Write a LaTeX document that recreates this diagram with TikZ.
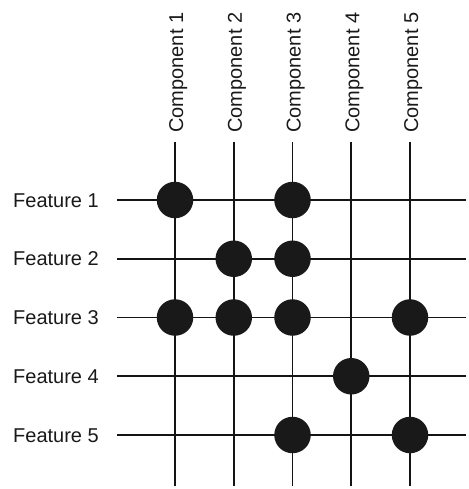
\documentclass[tikz,border=0pt]{standalone}
\usepackage{fontspec}
\setmainfont{Liberation Sans}
\begin{document}
\begin{tikzpicture}[x=1pt, y=-1pt,
  gridline/.style={line width=1.9pt, draw=black!92},
  dot/.style={circle, fill=black!90, draw=none, minimum size=36.5pt, inner sep=0pt},
  complabel/.style={rotate=90, anchor=base west, inner sep=0pt, font=\fontsize{20}{24}\selectfont, text=black!90},
  featlabel/.style={anchor=base east, inner sep=0pt, font=\fontsize{20}{24}\selectfont, text=black!90}]
\useasboundingbox (0,0) rectangle (468,489);

% columns: one per component
\foreach \i in {1,...,5} {
  \pgfmathsetmacro\cx{175+58.75*(\i-1)}
  \coordinate (ctop\i) at (\cx,142);
  \coordinate (cbot\i) at (\cx,486);
  \node[complabel] (clab\i) at (\cx+8,133) {Component \i};
  \draw[gridline] (ctop\i) -- (cbot\i);
}

% rows: one per feature
\foreach \j in {1,...,5} {
  \pgfmathsetmacro\ry{200+58.75*(\j-1)}
  \coordinate (rl\j) at (117,\ry);
  \coordinate (rr\j) at (466,\ry);
  \node[featlabel] (flab\j) at (99,\ry+7) {Feature \j};
  \draw[gridline] (rl\j) -- (rr\j);
}

% membership dots (component/feature)
\foreach \c/\r in {1/1,3/1,2/2,3/2,1/3,2/3,3/3,5/3,4/4,3/5,5/5} {
  \node[dot] (dot\c\r) at (cbot\c |- rl\r) {};
}
\end{tikzpicture}
\end{document}
